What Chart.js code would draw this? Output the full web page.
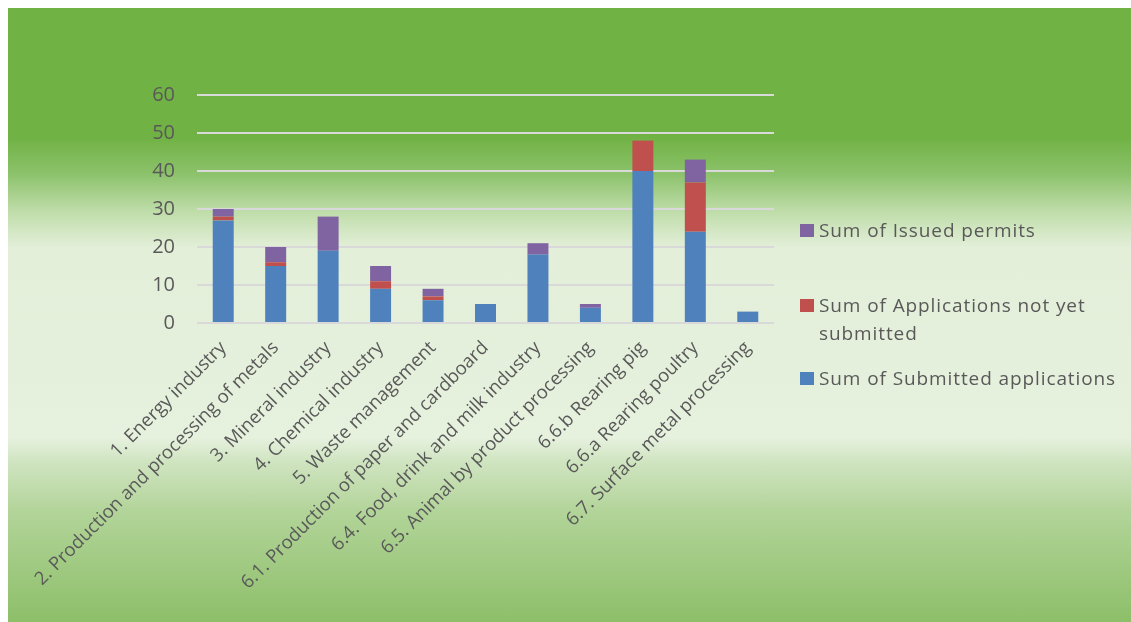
<!DOCTYPE html>
<html>
<head>
<meta charset="utf-8">
<script src="https://cdn.jsdelivr.net/npm/chart.js@4/dist/chart.umd.min.js"></script>
<style>
  body { margin: 0; background: #fff; overflow: hidden; }
  #bg {
    position: absolute; left: 8px; top: 8px; width: 1123px; height: 614px;
    background: linear-gradient(to bottom,
      #70b244 0%, #70b244 21%, #8cc26b 27%, #bedca8 33%, #e3efd9 39%, #e6f1de 70%,
      #cfe4c0 74%, #b2d499 82%, #8dbf69 100%);
  }
  #myChart { position: absolute; left: 0; top: 0; }
  .legend { position: absolute; left: 800px; font-family: "Open Sans", sans-serif; font-size: 19px; letter-spacing: 0.9px; color: #595959; line-height: 28px; }
  .legend .sw { position: absolute; left: 0; top: 8px; width: 14px; height: 13px; }
  .legend .tx { margin-left: 19px; white-space: nowrap; }
</style>
</head>
<body>
<div id="bg"></div>
<canvas id="myChart" width="1131" height="622"></canvas>

<div class="legend" style="top:216px"><div class="sw" style="background:#8064a2"></div><div class="tx">Sum of Issued permits</div></div>
<div class="legend" style="top:291px"><div class="sw" style="background:#c0504d"></div><div class="tx">Sum of Applications not yet<br>submitted</div></div>
<div class="legend" style="top:364px"><div class="sw" style="background:#4f81bd"></div><div class="tx">Sum of Submitted applications</div></div>

<script>
const labels = ['1. Energy industry', '2. Production and processing of metals', '3. Mineral industry',
    '4. Chemical industry', '5. Waste management', '6.1. Production of paper and cardboard',
    '6.4. Food, drink and milk industry', '6.5. Animal by product processing', '6.6.b Rearing pig',
    '6.6.a Rearing poultry', '6.7. Surface metal processing'];

const submitted = [27, 15, 19, 9, 6, 5, 18, 4, 40, 24, 3]
const notYet = [1, 1, 0, 2, 1, 0, 0, 0, 8, 13, 0]
const issued = [2, 4, 9, 4, 2, 0, 3, 1, 0, 6, 0]

const yTicks = [0, 10, 20, 30, 40, 50, 60]

const data = {
    labels: labels,
    datasets: [
        { label: 'Sum of Submitted applications', data: submitted, backgroundColor: '#4f81bd' },
        { label: 'Sum of Applications not yet submitted', data: notYet, backgroundColor: '#c0504d' },
        { label: 'Sum of Issued permits', data: issued, backgroundColor: '#8064a2' }
    ]
};

const config = {
    type: 'bar',
    data: data,
    options: {
        responsive: false,
        animation: false,
        datasets: { bar: { categoryPercentage: 1, barPercentage: 0.4 } },
        layout: { padding: { top: 95, right: 357, left: 0, bottom: 0 } },
        plugins: { legend: { display: false }, tooltip: { enabled: false } },
        scales: {
            x: {
                stacked: true,
                grid: { display: false },
                border: { display: false },
                ticks: {
                    autoSkip: false, minRotation: 45, maxRotation: 45, padding: 6,
                    color: '#595959', font: { family: 'Open Sans', size: 18.5 }
                },
                afterFit: (s) => { s.height = 299 }
            },
            y: {
                stacked: true,
                min: 0, max: 60,
                afterBuildTicks: (s) => { s.ticks = yTicks.map(v => ({ value: v })) },
                grid: { color: '#d9d9d9', lineWidth: 2, drawTicks: false },
                border: { display: false },
                ticks: { padding: 22, color: '#595959', font: { family: 'Open Sans', size: 20 } },
                afterFit: (s) => { s.width = 197 }
            }
        }
    }
};

const myChart = new Chart(document.getElementById('myChart'), config);
</script>
</body>
</html>
